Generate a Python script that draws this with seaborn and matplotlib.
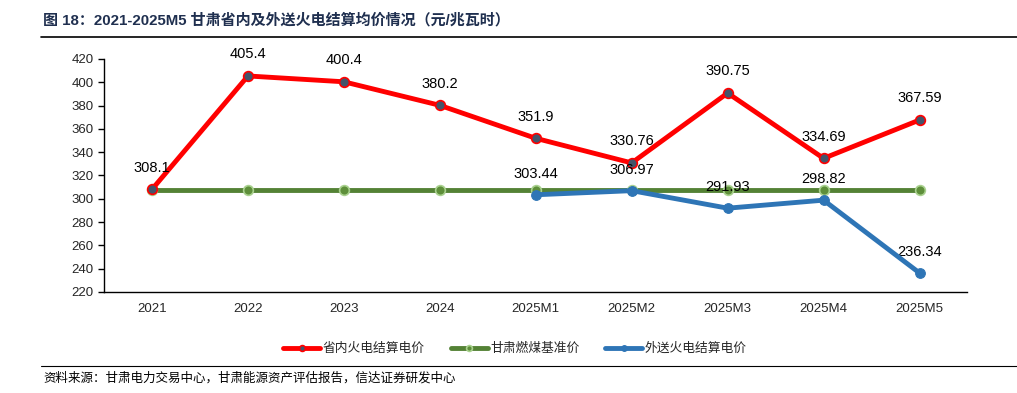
import numpy as np
import pandas as pd
import matplotlib.pyplot as plt
import seaborn as sns

# Data
periods = ['2021', '2022', '2023', '2024', '2025M1', '2025M2', '2025M3', '2025M4', '2025M5']
inner_price = [308.1, 405.4, 400.4, 380.2, 351.9, 330.76, 390.75, 334.69, 367.59]
base_price = [307.8, 307.8, 307.8, 307.8, 307.8, 307.8, 307.8, 307.8, 307.8]
export_price = [np.nan, np.nan, np.nan, np.nan, 303.44, 306.97, 291.93, 298.82, 236.34]

sns.set_theme(style="white")
plt.rcParams['font.family'] = ['Liberation Sans', 'Noto Sans CJK SC', 'DejaVu Sans']
plt.rcParams['axes.unicode_minus'] = False

df = pd.DataFrame({'pos': range(len(periods)), 'period': periods,
                   'inner': inner_price, 'base': base_price, 'export': export_price})

fig = plt.figure(figsize=(10.17, 3.93), dpi=100)
ax = fig.add_axes([0.1023, 0.257, 0.849, 0.593])

red = '#ff0000'
green = '#548235'
blue = '#2e75b6'

sns.lineplot(data=df, x='pos', y='base', ax=ax, color=green, linewidth=3.5,
             marker='o', markersize=7, markerfacecolor='#5e8f3a',
             markeredgecolor='#a9d18e', markeredgewidth=1.2, label='甘肃燃煤基准价', zorder=2)
sns.lineplot(data=df, x='pos', y='inner', ax=ax, color=red, linewidth=3.5,
             marker='o', markersize=7, markerfacecolor='#44546a',
             markeredgecolor=red, markeredgewidth=1.2, label='省内火电结算电价', zorder=3)
sns.lineplot(data=df.dropna(), x='pos', y='export', ax=ax, color=blue, linewidth=3.5,
             marker='o', markersize=7, markerfacecolor=blue,
             markeredgecolor=blue, label='外送火电结算电价', zorder=4)

# Data labels
for i, v in enumerate(inner_price):
    ax.annotate(f'{v:g}', (i, v), xytext=(0, 10.5), textcoords='offset points',
                ha='center', va='bottom', fontsize=10.5, color='black')
for i, v in enumerate(export_price):
    if not np.isnan(v):
        ax.annotate(f'{v:g}', (i, v), xytext=(0, 10), textcoords='offset points',
                    ha='center', va='bottom', fontsize=10.5, color='black')

ax.set_xlim(-0.5, len(periods) - 0.5)
ax.set_ylim(220, 420)
ax.set_yticks(range(220, 421, 20))
ax.set_xticks(range(len(periods)))
ax.set_xticklabels(periods)
ax.set_xticks(np.arange(-0.5, len(periods), 1), minor=True)
ax.tick_params(axis='x', which='major', length=0, labelsize=9.5, pad=8)
ax.tick_params(axis='x', which='minor', length=4, width=1, color='black', direction='out')
ax.tick_params(axis='y', length=4, width=1, color='black', direction='out', labelsize=9.5, left=True)
ax.set_xlabel('')
ax.set_ylabel('')
for s in ['top', 'right']:
    ax.spines[s].set_visible(False)
for s in ['left', 'bottom']:
    ax.spines[s].set_color('black')
    ax.spines[s].set_linewidth(1)
ax.grid(False)

handles, labels = ax.get_legend_handles_labels()
order = [1, 0, 2]
ax.legend([handles[i] for i in order], [labels[i] for i in order],
          loc='center', bbox_to_anchor=(0.476, -0.245), ncol=3, frameon=False,
          fontsize=9.2, handlelength=2.9, columnspacing=2.0, handletextpad=0.2,
          markerscale=0.6)

# Title and rules
fig.text(0.042, 0.948, '图 18：2021-2025M5 甘肃省内及外送火电结算均价情况（元/兆瓦时）',
         fontsize=10.8, fontweight='bold', color='#1f2f4f', ha='left', va='center')
fig.add_artist(plt.Line2D([0.04, 1.0], [0.906, 0.906], color='black', linewidth=1.2))
fig.add_artist(plt.Line2D([0.04, 1.0], [0.069, 0.069], color='black', linewidth=0.8))
fig.text(0.043, 0.038, '资料来源：甘肃电力交易中心，甘肃能源资产评估报告，信达证券研发中心',
         fontsize=9, style='italic', color='black', ha='left', va='center')

plt.savefig('out.png', dpi=100)
